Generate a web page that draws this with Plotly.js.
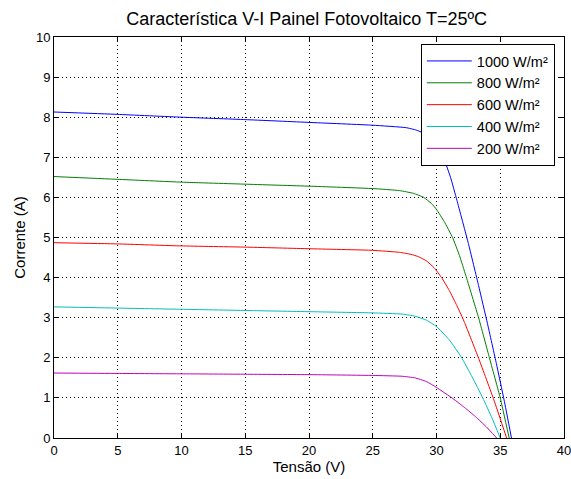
<!DOCTYPE html>
<html>
<head>
<meta charset="utf-8">
<script src="https://cdn.plot.ly/plotly-3.0.1.min.js"></script>
<style>html,body{margin:0;padding:0;background:#fff;}#chart{width:571px;height:479px;}</style>
</head>
<body>
<div id="chart"></div>
<script>
const seriesNames = ["1000 W/m²", "800 W/m²", "600 W/m²", "400 W/m²", "200 W/m²"];
const seriesColors = ["#0000ff", "#008000", "#ff0000", "#00bfbf", "#bf00bf"];

const v1000 = [0, 5, 10, 15, 20, 25, 27.6, 28.4, 29.0, 29.6, 30.1, 30.6, 31.1, 31.6, 32.5, 33.3, 34.0, 34.7, 35.3, 35.88];
const i1000 = [8.13, 8.07, 8.0, 7.94, 7.87, 7.80, 7.74, 7.68, 7.6, 7.45, 7.25, 6.95, 6.5, 5.93, 4.85, 3.8, 2.85, 1.85, 0.95, 0];

const v800 = [0, 5, 10, 15, 20, 25, 27.1, 28.2, 29.0, 29.6, 30.0, 30.6, 31.26, 31.8, 32.3, 33.3, 34.15, 35.0, 35.7];
const i800 = [6.52, 6.45, 6.38, 6.33, 6.28, 6.22, 6.17, 6.1, 6.0, 5.85, 5.7, 5.4, 5.0, 4.55, 4.05, 3.0, 2.0, 1.0, 0];

const v600 = [0, 5, 10, 15, 20, 25, 27.1, 28.0, 28.6, 29.2, 29.8, 30.4, 31.0, 31.6, 32.2, 33.35, 34.5, 35.5];
const i600 = [4.87, 4.84, 4.79, 4.76, 4.72, 4.68, 4.63, 4.58, 4.52, 4.42, 4.25, 4.0, 3.68, 3.3, 2.88, 1.95, 0.95, 0];

const v400 = [0, 5, 10, 15, 20, 25, 27.3, 28.3, 29.2, 30.0, 31.0, 31.94, 32.8, 33.63, 34.35, 35.0];
const i400 = [3.27, 3.24, 3.21, 3.18, 3.15, 3.12, 3.09, 3.04, 2.94, 2.78, 2.45, 2.02, 1.52, 1.0, 0.5, 0];

const v200 = [0, 5, 10, 15, 20, 25, 27.3, 28.3, 29.2, 30.0, 31.3, 32.2, 33.07, 33.9, 34.72];
const i200 = [1.62, 1.61, 1.6, 1.59, 1.58, 1.56, 1.54, 1.5, 1.41, 1.26, 0.98, 0.76, 0.53, 0.28, 0];

const xTicks = [0, 5, 10, 15, 20, 25, 30, 35, 40];
const yTicks = [0, 1, 2, 3, 4, 5, 6, 7, 8, 9, 10];

const vs = [v1000, v800, v600, v400, v200];
const is = [i1000, i800, i600, i400, i200];

const traces = seriesNames.map((n, k) => ({
  x: vs[k], y: is[k], name: n, type: "scatter", mode: "lines",
  line: {color: seriesColors[k], width: 1, shape: "spline", smoothing: 0.4}
}));

const font = "Liberation Sans, Arial, Helvetica, sans-serif";
const axisCommon = {
  showline: true, linecolor: "#000", linewidth: 1, mirror: "ticks",
  ticks: "inside", ticklen: 5, tickcolor: "#000",
  showgrid: true, gridcolor: "#000", gridwidth: 1, griddash: "1px,3px",
  zeroline: false, tickfont: {family: font, size: 13, color: "#000"},
  ticklabeloverflow: "allow"
};

const layout = {
  width: 571, height: 479,
  margin: {l: 54, r: 7, t: 37, b: 41},
  paper_bgcolor: "#fff", plot_bgcolor: "#fff",
  font: {family: font, color: "#000"},
  title: {text: "Característica V-I Painel Fotovoltaico T=25ºC", font: {family: font, size: 18, color: "#000"},
          x: 0.537, xanchor: "center", y: 0.962, yanchor: "middle"},
  xaxis: Object.assign({}, axisCommon, {range: [0, 40], tickvals: xTicks, ticktext: xTicks.map(String),
          title: {text: "Tensão (V)", font: {family: font, size: 15, color: "#000"}, standoff: 3}}),
  yaxis: Object.assign({}, axisCommon, {range: [0, 10], tickvals: yTicks, ticktext: yTicks.map(String),
          title: {text: "Corrente (A)", font: {family: font, size: 15, color: "#000"}, standoff: 6}}),
  showlegend: true,
  legend: {x: 0.982, xanchor: "right", y: 0.9825, yanchor: "top", bgcolor: "#fff",
           bordercolor: "#000", borderwidth: 1, font: {family: font, size: 14.5, color: "#000"},
           tracegroupgap: 0, itemwidth: 45}
};

Plotly.newPlot("chart", traces, layout, {displayModeBar: false, staticPlot: true});
</script>
</body>
</html>
